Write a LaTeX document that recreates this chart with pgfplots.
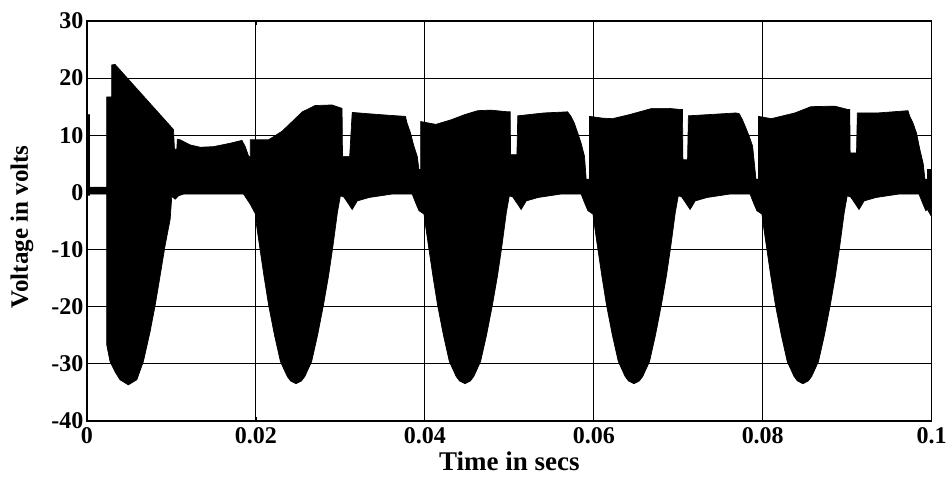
\documentclass[border=0pt]{standalone}
\usepackage{pgfplots}
\pgfplotsset{compat=1.18}
\usepackage{pgfplotstable}
\usepgfplotslibrary{fillbetween}
\usepackage{fontspec}
\setmainfont{Liberation Serif}

\pgfplotstableread{
t v
0.00000 13.6
0.00030 13.6
0.00030 0.9
0.00234 0.9
0.00234 16.7
0.00293 16.7
0.00293 22.3
0.00332 22.4
0.01024 11.0
0.01036 7.5
0.01064 7.6
0.01070 9.3
0.01103 9.2
0.01222 8.3
0.01340 7.9
0.01498 8.0
0.01696 8.6
0.01835 9.1
0.01874 8.0
0.01914 6.3
0.01934 6.3
0.01934 9.2
0.02150 9.2
0.02310 10.7
0.02430 12.4
0.02550 14.1
0.02700 15.2
0.02900 15.3
0.03020 14.7
0.03025 6.3
0.03110 6.3
0.03140 14.0
0.03300 13.8
0.03570 13.5
0.03770 13.3
0.03790 12.1
0.03830 10.4
0.03870 8.1
0.03910 6.3
0.03930 4.0
0.03950 4.0
0.03950 12.4
0.04130 11.9
0.04310 12.7
0.04470 13.6
0.04625 14.3
0.04780 14.4
0.04980 14.1
0.05010 14.1
0.05015 6.6
0.05090 6.6
0.05100 13.4
0.05410 13.9
0.05690 14.1
0.05730 13.3
0.05770 12.1
0.05810 10.4
0.05850 8.6
0.05890 6.3
0.05910 2.3
0.05950 2.3
0.05950 13.3
0.06100 13.0
0.06220 12.9
0.06420 13.6
0.06690 14.7
0.06890 14.7
0.07030 14.5
0.07050 14.5
0.07055 5.7
0.07110 5.7
0.07120 13.4
0.07680 13.9
0.07720 13.8
0.07760 12.7
0.07800 11.3
0.07840 9.8
0.07880 8.1
0.07920 2.3
0.07950 2.3
0.07950 13.3
0.08100 12.9
0.08380 13.9
0.08570 15.0
0.08850 15.1
0.09010 14.5
0.09030 14.5
0.09035 6.9
0.09110 6.9
0.09120 13.9
0.09360 13.9
0.09720 14.3
0.09740 13.3
0.09780 12.1
0.09820 10.4
0.09860 7.5
0.09900 5.0
0.09920 2.3
0.09950 2.3
0.09950 4.0
0.10000 4.0
}\upperenv

\pgfplotstableread{
t v
0.00000 -0.5
0.00030 -0.5
0.00030 -0.3
0.00234 -0.3
0.00234 -26.7
0.00273 -29.6
0.00332 -31.4
0.00391 -32.8
0.00490 -33.7
0.00590 -32.8
0.00668 -29.6
0.00747 -24.4
0.00807 -19.8
0.00866 -14.6
0.00925 -9.3
0.00985 -4.7
0.01004 -0.7
0.01044 -1.2
0.01083 -0.6
0.01143 -0.3
0.01854 -0.3
0.01894 -1.2
0.01934 -2.1
0.01995 -3.8
0.02005 -5.5
0.02045 -9.6
0.02095 -14.6
0.02150 -19.7
0.02220 -25.0
0.02290 -29.6
0.02370 -32.2
0.02410 -33.0
0.02475 -33.5
0.02540 -33.0
0.02580 -32.2
0.02660 -29.6
0.02730 -25.0
0.02800 -19.7
0.02860 -14.6
0.02910 -9.6
0.02965 -3.5
0.03000 -0.6
0.03040 -0.8
0.03100 -2.1
0.03140 -3.0
0.03200 -1.5
0.03340 -0.9
0.03610 -0.3
0.03850 -0.3
0.03890 -1.8
0.03930 -3.2
0.03990 -3.8
0.04005 -5.5
0.04045 -9.6
0.04095 -14.6
0.04150 -19.7
0.04220 -25.0
0.04290 -29.6
0.04370 -32.2
0.04410 -33.0
0.04475 -33.5
0.04540 -33.0
0.04580 -32.2
0.04660 -29.6
0.04730 -25.0
0.04800 -19.7
0.04860 -14.6
0.04910 -9.6
0.04965 -3.5
0.05000 -0.6
0.05040 -0.8
0.05100 -2.1
0.05140 -3.0
0.05200 -1.5
0.05340 -0.9
0.05610 -0.3
0.05850 -0.3
0.05890 -1.8
0.05930 -3.2
0.05990 -3.8
0.06005 -5.5
0.06045 -9.6
0.06095 -14.6
0.06150 -19.7
0.06220 -25.0
0.06290 -29.6
0.06370 -32.2
0.06410 -33.0
0.06475 -33.5
0.06540 -33.0
0.06580 -32.2
0.06660 -29.6
0.06730 -25.0
0.06800 -19.7
0.06860 -14.6
0.06910 -9.6
0.06965 -3.5
0.07000 -0.6
0.07040 -0.8
0.07100 -2.1
0.07140 -3.0
0.07200 -1.5
0.07340 -0.9
0.07610 -0.3
0.07850 -0.3
0.07890 -1.8
0.07930 -3.2
0.07990 -3.8
0.08005 -5.5
0.08045 -9.6
0.08095 -14.6
0.08150 -19.7
0.08220 -25.0
0.08290 -29.6
0.08370 -32.2
0.08410 -33.0
0.08475 -33.5
0.08540 -33.0
0.08580 -32.2
0.08660 -29.6
0.08730 -25.0
0.08800 -19.7
0.08860 -14.6
0.08910 -9.6
0.08965 -3.5
0.09000 -0.6
0.09040 -0.8
0.09100 -2.1
0.09140 -3.0
0.09200 -1.5
0.09340 -0.9
0.09610 -0.3
0.09850 -0.3
0.09890 -1.8
0.09930 -3.2
0.09950 -3.0
0.10000 -4.3
}\lowerenv

\begin{document}
\begin{tikzpicture}
\begin{axis}[
  scale only axis,
  width=845pt, height=400pt,
  xmin=0, xmax=0.1, ymin=-40, ymax=30,
  xtick={0,0.02,0.04,0.06,0.08,0.1},
  xticklabels={0,0.02,0.04,0.06,0.08,0.1},
  ytick={-40,-30,-20,-10,0,10,20,30},
  yticklabels={-40,-30,-20,-10,0,10,20,30},
  grid=major,
  major grid style={black, line width=0.9pt},
  axis line style={black, line width=1.3pt},
  tick align=inside,
  major tick length=4pt,
  tick style={black, line width=0.8pt},
  tick label style={font=\fontsize{24}{24}\selectfont\bfseries},
  xticklabel style={yshift=-3pt},
  xlabel={Time in secs},
  ylabel={Voltage in volts},
  xlabel style={font=\fontsize{27}{27}\selectfont\bfseries, at={(axis description cs:0.5,-0.1)}, anchor=center},
  ylabel style={font=\fontsize{25}{25}\selectfont\bfseries, at={(axis description cs:-0.077,0.485)}, anchor=center},
]
\addplot[name path=U, draw=black, line width=0.7pt] table[x=t, y=v] {\upperenv};
\addplot[name path=L, draw=black, line width=0.7pt] table[x=t, y=v] {\lowerenv};
\addplot[fill=black, draw=none] fill between[of=U and L];
\end{axis}
\path (current axis.south west) ++(-87pt,-56pt);
\path (current axis.north east) ++(18pt,21pt);
\end{tikzpicture}
\end{document}
